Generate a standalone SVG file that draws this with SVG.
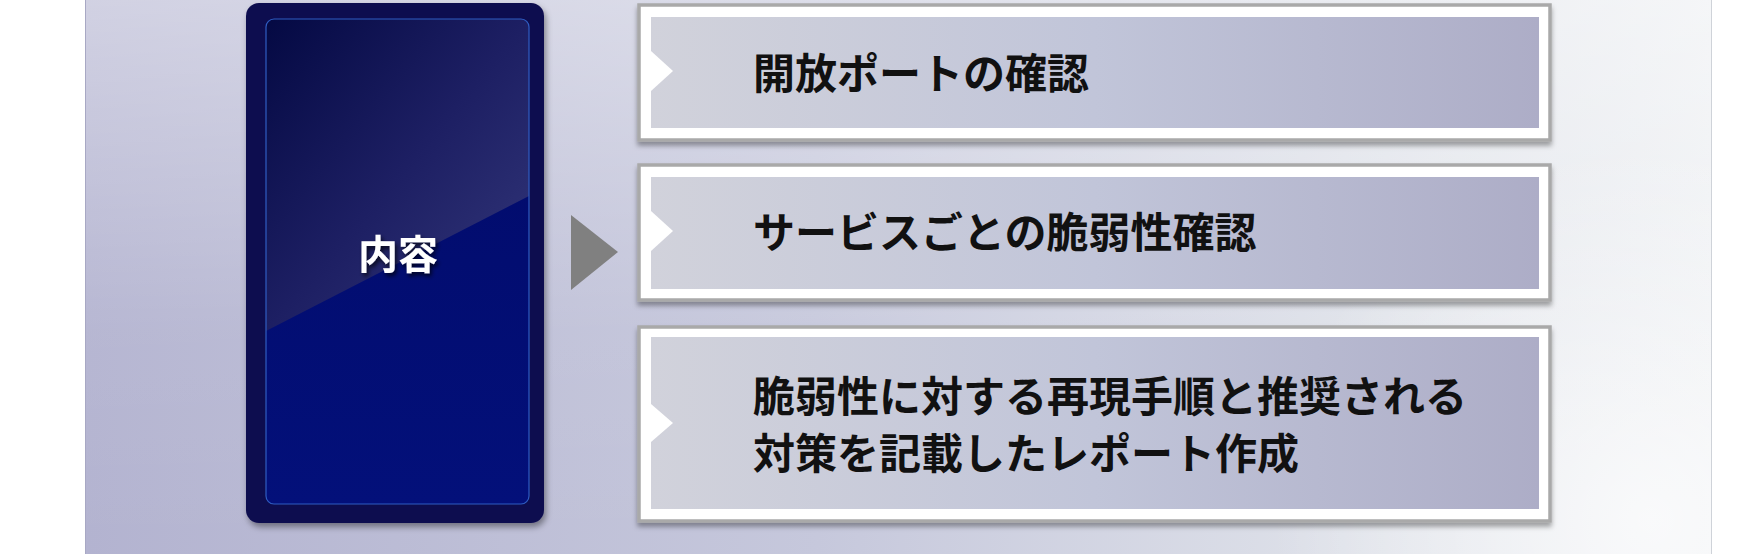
<svg xmlns="http://www.w3.org/2000/svg" width="1750" height="554" viewBox="0 0 1750 554">
<defs>
<linearGradient id="bgH" x1="0" y1="0" x2="1" y2="0">
<stop offset="0" stop-color="#b3b3d0"/>
<stop offset="0.45" stop-color="#c6c8dc"/>
<stop offset="0.8" stop-color="#e0e3ea"/>
<stop offset="1" stop-color="#eef0f3"/>
</linearGradient>
<linearGradient id="bgV" x1="0" y1="0" x2="0" y2="1">
<stop offset="0" stop-color="#ffffff" stop-opacity="0.4"/>
<stop offset="0.6" stop-color="#ffffff" stop-opacity="0.05"/>
<stop offset="1" stop-color="#ffffff" stop-opacity="0"/>
</linearGradient>
<radialGradient id="bgR" cx="1650" cy="520" r="380" gradientUnits="userSpaceOnUse">
<stop offset="0" stop-color="#ffffff" stop-opacity="0.7"/>
<stop offset="1" stop-color="#ffffff" stop-opacity="0"/>
</radialGradient>
<linearGradient id="boxFill" x1="0" y1="0" x2="1" y2="0">
<stop offset="0" stop-color="#d1d2db"/>
<stop offset="0.5" stop-color="#c1c5d9"/>
<stop offset="1" stop-color="#adadc7"/>
</linearGradient>
<linearGradient id="innerTop" x1="0" y1="0" x2="1" y2="1">
<stop offset="0" stop-color="#040943"/>
<stop offset="0.5" stop-color="#1d1f63"/>
<stop offset="1" stop-color="#34387c"/>
</linearGradient>
<linearGradient id="innerBot" x1="0" y1="0" x2="0" y2="1">
<stop offset="0" stop-color="#010a68"/>
<stop offset="1" stop-color="#03107a"/>
</linearGradient>
<clipPath id="innerClip"><rect x="266" y="19" width="263" height="485" rx="8"/></clipPath>
<filter id="shadow" x="-10%" y="-10%" width="130%" height="130%">
<feDropShadow dx="2" dy="4" stdDeviation="3" flood-color="#000000" flood-opacity="0.4"/>
</filter>
<filter id="boxShadow" x="-5%" y="-10%" width="110%" height="130%">
<feDropShadow dx="0" dy="4" stdDeviation="2.5" flood-color="#000000" flood-opacity="0.35"/>
</filter>
<filter id="textShadow" x="-20%" y="-20%" width="140%" height="140%">
<feDropShadow dx="2" dy="3" stdDeviation="2" flood-color="#000000" flood-opacity="0.7"/>
</filter>
</defs>
<style>
.frame { fill: #ffffff; stroke: #a9a9a9; stroke-width: 3.5; }
.inner { fill: url(#boxFill); }
.notch { fill: #ffffff; }
.label { font-family: "Noto Sans CJK JP", "Noto Sans", sans-serif; font-size: 42px; font-weight: 700; fill: #111111; }
.title { font-family: "Noto Sans CJK JP", "Noto Sans", sans-serif; font-size: 40px; font-weight: 700; fill: #ffffff; }
</style>
<rect width="1750" height="554" fill="#ffffff"/>
<g id="background">
<rect x="85" y="0" width="1627" height="554" fill="url(#bgH)"/>
<rect x="85" y="0" width="1627" height="554" fill="url(#bgV)"/>
<rect x="85" y="0" width="1627" height="554" fill="url(#bgR)"/>
<line x1="85.5" y1="0" x2="85.5" y2="554" stroke="#a8a8c4" stroke-width="1"/>
<line x1="1711.5" y1="0" x2="1711.5" y2="554" stroke="#cfd3d9" stroke-width="1"/>
</g>
<g id="node-content">
<rect x="246" y="3" width="298" height="520" rx="13" fill="#110d4f" filter="url(#shadow)"/>
<g clip-path="url(#innerClip)">
<rect x="266" y="19" width="263" height="485" fill="url(#innerBot)"/>
<polygon points="266,19 529,19 529,196 266,331" fill="url(#innerTop)"/>
</g>
<rect x="266" y="19" width="263" height="485" rx="8" fill="none" stroke="#2f5dc2" stroke-width="1.2"/>
<text class="title" x="398" y="269" text-anchor="middle" filter="url(#textShadow)">内容</text>
</g>
<g id="connectors">
<polygon points="571,215 618,252 571,290" fill="#808080"/>
</g>
<g id="node-1">
<rect class="frame" x="639" y="5" width="911" height="135" filter="url(#boxShadow)"/>
<rect class="inner" x="651" y="17" width="888" height="111"/>
<polygon class="notch" points="651,51 673,71 651,91"/>
<text class="label" x="753" y="89">開放ポートの確認</text>
</g>
<g id="node-2">
<rect class="frame" x="639" y="165" width="911" height="135" filter="url(#boxShadow)"/>
<rect class="inner" x="651" y="177" width="888" height="112"/>
<polygon class="notch" points="651,211 673,231 651,251"/>
<text class="label" x="753" y="248">サービスごとの脆弱性確認</text>
</g>
<g id="node-3">
<rect class="frame" x="639" y="327" width="911" height="194" filter="url(#boxShadow)"/>
<rect class="inner" x="651" y="337" width="888" height="172"/>
<polygon class="notch" points="651,404 673,423 651,442"/>
<text class="label" x="753" y="412">脆弱性に対する再現手順と推奨される</text>
<text class="label" x="753" y="469">対策を記載したレポート作成</text>
</g>
</svg>
